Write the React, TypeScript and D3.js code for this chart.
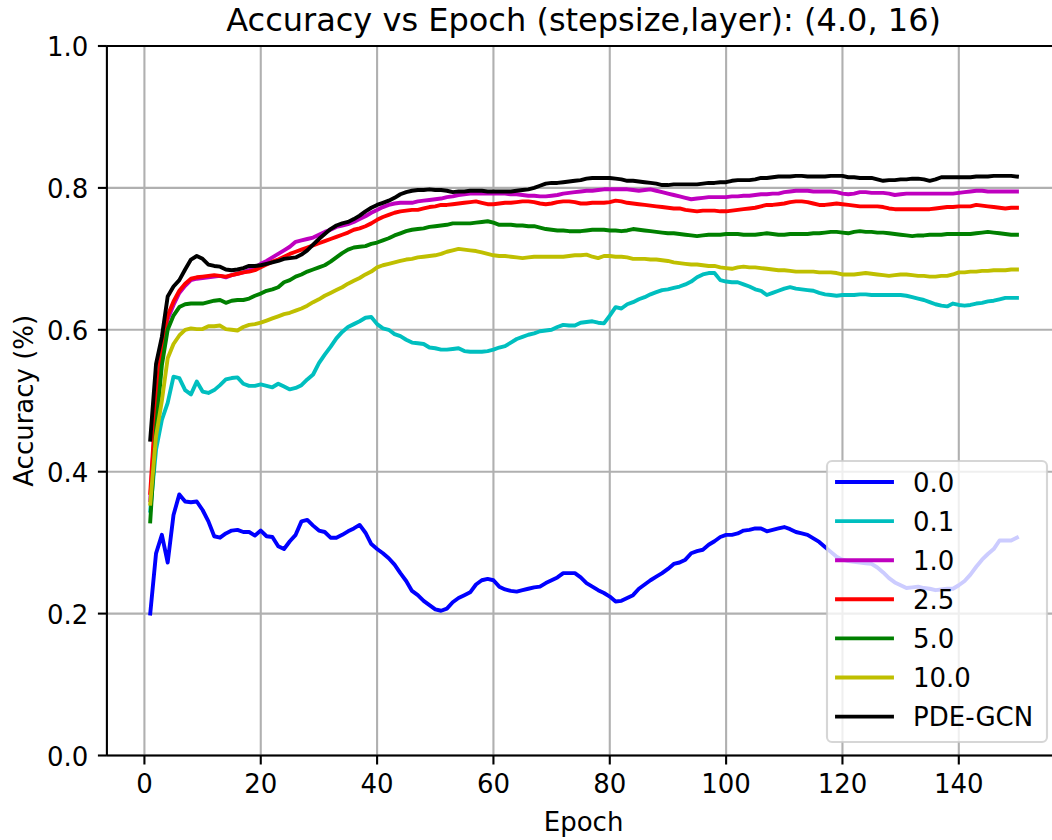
import React from "react";
import * as d3 from "d3";

const epochs: number[] = d3.range(1, 151);

const seriesNames = ["0.0", "0.1", "1.0", "2.5", "5.0", "10.0", "PDE-GCN"];
const seriesColors = ["#0000ff", "#00bfbf", "#bf00bf", "#ff0000", "#008000", "#bfbf00", "#000000"];

const acc00 = [
  0.200, 0.285, 0.311, 0.272, 0.339, 0.368, 0.358, 0.357, 0.358, 0.346,
  0.330, 0.309, 0.307, 0.313, 0.317, 0.318, 0.315, 0.315, 0.310, 0.317,
  0.309, 0.308, 0.295, 0.291, 0.302, 0.311, 0.330, 0.332, 0.324, 0.317,
  0.315, 0.307, 0.307, 0.311, 0.316, 0.320, 0.325, 0.314, 0.298, 0.291,
  0.285, 0.278, 0.269, 0.257, 0.246, 0.232, 0.226, 0.218, 0.212, 0.206,
  0.204, 0.207, 0.216, 0.222, 0.226, 0.230, 0.241, 0.247, 0.249, 0.247,
  0.238, 0.234, 0.232, 0.231, 0.233, 0.235, 0.237, 0.238, 0.243, 0.247,
  0.251, 0.257, 0.257, 0.257, 0.251, 0.243, 0.238, 0.233, 0.229, 0.224,
  0.217, 0.218, 0.222, 0.226, 0.235, 0.241, 0.247, 0.252, 0.257, 0.263,
  0.270, 0.272, 0.276, 0.285, 0.288, 0.290, 0.297, 0.302, 0.308, 0.311,
  0.311, 0.313, 0.317, 0.318, 0.320, 0.320, 0.316, 0.318, 0.320, 0.322,
  0.319, 0.315, 0.313, 0.311, 0.306, 0.301, 0.294, 0.287, 0.280, 0.276,
  0.274, 0.273, 0.272, 0.271, 0.270, 0.265, 0.258, 0.250, 0.244, 0.240,
  0.236, 0.237, 0.238, 0.236, 0.235, 0.233, 0.234, 0.235, 0.235, 0.240,
  0.246, 0.255, 0.266, 0.276, 0.284, 0.291, 0.303, 0.303, 0.303, 0.307,
];

const acc01 = [
  0.345, 0.431, 0.473, 0.497, 0.534, 0.532, 0.515, 0.509, 0.527, 0.513,
  0.511, 0.515, 0.522, 0.530, 0.532, 0.533, 0.524, 0.521, 0.521, 0.523,
  0.521, 0.519, 0.524, 0.520, 0.516, 0.518, 0.522, 0.530, 0.537, 0.553,
  0.565, 0.576, 0.588, 0.597, 0.604, 0.608, 0.612, 0.617, 0.618, 0.608,
  0.602, 0.600, 0.594, 0.591, 0.586, 0.582, 0.581, 0.580, 0.575, 0.574,
  0.572, 0.572, 0.573, 0.574, 0.570, 0.569, 0.569, 0.569, 0.570, 0.572,
  0.575, 0.577, 0.582, 0.587, 0.590, 0.593, 0.595, 0.598, 0.599, 0.600,
  0.604, 0.607, 0.606, 0.606, 0.610, 0.611, 0.612, 0.610, 0.609, 0.620,
  0.632, 0.630, 0.636, 0.639, 0.643, 0.646, 0.650, 0.653, 0.656, 0.657,
  0.659, 0.661, 0.664, 0.668, 0.674, 0.678, 0.680, 0.680, 0.670, 0.668,
  0.667, 0.667, 0.664, 0.661, 0.657, 0.655, 0.649, 0.652, 0.655, 0.658,
  0.660, 0.658, 0.657, 0.656, 0.655, 0.652, 0.650, 0.649, 0.648, 0.649,
  0.649, 0.649, 0.650, 0.650, 0.649, 0.649, 0.649, 0.649, 0.649, 0.649,
  0.648, 0.646, 0.644, 0.642, 0.639, 0.636, 0.634, 0.633, 0.637, 0.635,
  0.634, 0.635, 0.637, 0.638, 0.640, 0.641, 0.643, 0.645, 0.645, 0.645,
];

const acc10 = [
  0.360, 0.490, 0.570, 0.615, 0.635, 0.652, 0.662, 0.670, 0.672, 0.673,
  0.674, 0.675, 0.676, 0.674, 0.677, 0.679, 0.681, 0.684, 0.688, 0.693,
  0.697, 0.702, 0.707, 0.712, 0.717, 0.724, 0.726, 0.728, 0.730, 0.734,
  0.738, 0.741, 0.745, 0.747, 0.749, 0.752, 0.756, 0.760, 0.765, 0.769,
  0.773, 0.776, 0.778, 0.779, 0.779, 0.779, 0.781, 0.782, 0.783, 0.784,
  0.785, 0.787, 0.788, 0.790, 0.791, 0.792, 0.792, 0.792, 0.792, 0.792,
  0.792, 0.792, 0.791, 0.791, 0.790, 0.789, 0.789, 0.788, 0.788, 0.789,
  0.790, 0.792, 0.793, 0.794, 0.795, 0.796, 0.796, 0.797, 0.798, 0.798,
  0.798, 0.798, 0.798, 0.797, 0.796, 0.797, 0.798, 0.796, 0.794, 0.792,
  0.790, 0.788, 0.786, 0.784, 0.785, 0.786, 0.787, 0.787, 0.787, 0.787,
  0.788, 0.788, 0.789, 0.789, 0.790, 0.791, 0.791, 0.792, 0.792, 0.794,
  0.795, 0.796, 0.796, 0.796, 0.795, 0.795, 0.795, 0.795, 0.794, 0.792,
  0.791, 0.792, 0.794, 0.794, 0.793, 0.793, 0.793, 0.792, 0.790, 0.791,
  0.792, 0.792, 0.792, 0.792, 0.792, 0.792, 0.792, 0.792, 0.792, 0.793,
  0.794, 0.795, 0.796, 0.796, 0.795, 0.795, 0.795, 0.795, 0.795, 0.795,
];

const acc25 = [
  0.370, 0.500, 0.580, 0.620, 0.640, 0.655, 0.665, 0.672, 0.674, 0.675,
  0.676, 0.677, 0.676, 0.675, 0.677, 0.679, 0.681, 0.682, 0.684, 0.688,
  0.692, 0.696, 0.699, 0.703, 0.707, 0.710, 0.713, 0.716, 0.719, 0.722,
  0.725, 0.728, 0.731, 0.734, 0.737, 0.741, 0.743, 0.746, 0.750, 0.755,
  0.759, 0.762, 0.765, 0.767, 0.768, 0.769, 0.769, 0.771, 0.773, 0.774,
  0.776, 0.776, 0.777, 0.778, 0.779, 0.780, 0.781, 0.779, 0.777, 0.777,
  0.778, 0.779, 0.779, 0.780, 0.781, 0.781, 0.780, 0.778, 0.777, 0.778,
  0.780, 0.781, 0.781, 0.780, 0.778, 0.778, 0.779, 0.779, 0.779, 0.780,
  0.782, 0.781, 0.779, 0.778, 0.777, 0.776, 0.775, 0.774, 0.773, 0.772,
  0.771, 0.771, 0.769, 0.768, 0.767, 0.768, 0.768, 0.768, 0.767, 0.767,
  0.768, 0.769, 0.770, 0.771, 0.772, 0.774, 0.776, 0.776, 0.777, 0.778,
  0.780, 0.781, 0.781, 0.780, 0.778, 0.776, 0.776, 0.777, 0.778, 0.777,
  0.776, 0.775, 0.774, 0.774, 0.774, 0.774, 0.773, 0.771, 0.770, 0.770,
  0.770, 0.770, 0.770, 0.770, 0.770, 0.771, 0.772, 0.773, 0.773, 0.774,
  0.774, 0.774, 0.776, 0.775, 0.774, 0.773, 0.772, 0.771, 0.772, 0.772,
];

const acc50 = [
  0.330, 0.460, 0.550, 0.600, 0.620, 0.632, 0.636, 0.637, 0.637, 0.637,
  0.639, 0.641, 0.642, 0.638, 0.641, 0.642, 0.642, 0.644, 0.648, 0.651,
  0.655, 0.657, 0.660, 0.667, 0.670, 0.675, 0.678, 0.682, 0.685, 0.688,
  0.691, 0.696, 0.702, 0.708, 0.713, 0.716, 0.717, 0.718, 0.721, 0.723,
  0.726, 0.729, 0.733, 0.736, 0.739, 0.741, 0.742, 0.743, 0.745, 0.746,
  0.747, 0.748, 0.750, 0.750, 0.750, 0.750, 0.751, 0.752, 0.753, 0.751,
  0.748, 0.748, 0.748, 0.747, 0.747, 0.746, 0.746, 0.744, 0.742, 0.741,
  0.740, 0.740, 0.739, 0.739, 0.739, 0.740, 0.741, 0.741, 0.741, 0.740,
  0.740, 0.739, 0.740, 0.742, 0.741, 0.740, 0.739, 0.738, 0.737, 0.736,
  0.736, 0.735, 0.734, 0.733, 0.732, 0.733, 0.734, 0.734, 0.734, 0.735,
  0.735, 0.735, 0.734, 0.734, 0.734, 0.735, 0.736, 0.735, 0.734, 0.734,
  0.735, 0.735, 0.735, 0.735, 0.736, 0.736, 0.737, 0.738, 0.738, 0.737,
  0.736, 0.738, 0.739, 0.738, 0.738, 0.737, 0.737, 0.736, 0.735, 0.734,
  0.733, 0.732, 0.733, 0.733, 0.734, 0.734, 0.734, 0.735, 0.735, 0.735,
  0.735, 0.735, 0.736, 0.737, 0.738, 0.737, 0.736, 0.735, 0.734, 0.734,
];

const acc100 = [
  0.355, 0.450, 0.500, 0.560, 0.580, 0.592, 0.600, 0.602, 0.601, 0.601,
  0.605, 0.605, 0.606, 0.601, 0.600, 0.599, 0.604, 0.607, 0.608, 0.610,
  0.613, 0.616, 0.619, 0.622, 0.624, 0.627, 0.630, 0.634, 0.639, 0.643,
  0.648, 0.652, 0.656, 0.660, 0.665, 0.669, 0.673, 0.678, 0.682, 0.688,
  0.691, 0.693, 0.695, 0.697, 0.699, 0.700, 0.702, 0.703, 0.704, 0.705,
  0.707, 0.710, 0.712, 0.714, 0.713, 0.712, 0.711, 0.709, 0.707, 0.705,
  0.704, 0.704, 0.703, 0.702, 0.701, 0.702, 0.703, 0.703, 0.703, 0.703,
  0.703, 0.703, 0.704, 0.705, 0.705, 0.706, 0.703, 0.701, 0.704, 0.704,
  0.703, 0.703, 0.702, 0.700, 0.700, 0.700, 0.699, 0.699, 0.698, 0.697,
  0.695, 0.694, 0.693, 0.692, 0.692, 0.691, 0.690, 0.690, 0.688, 0.687,
  0.686, 0.688, 0.689, 0.688, 0.688, 0.687, 0.686, 0.685, 0.684, 0.684,
  0.683, 0.682, 0.682, 0.682, 0.682, 0.681, 0.681, 0.681, 0.680, 0.678,
  0.678, 0.678, 0.679, 0.680, 0.679, 0.678, 0.677, 0.676, 0.677, 0.678,
  0.678, 0.677, 0.676, 0.676, 0.675, 0.675, 0.676, 0.676, 0.678, 0.681,
  0.681, 0.682, 0.682, 0.683, 0.683, 0.684, 0.684, 0.684, 0.685, 0.685,
];

const accPDE = [
  0.445, 0.552, 0.590, 0.647, 0.661, 0.670, 0.685, 0.699, 0.704, 0.700,
  0.692, 0.690, 0.689, 0.685, 0.684, 0.685, 0.687, 0.690, 0.690, 0.691,
  0.693, 0.695, 0.697, 0.700, 0.701, 0.702, 0.706, 0.712, 0.720, 0.728,
  0.735, 0.742, 0.747, 0.750, 0.752, 0.756, 0.761, 0.767, 0.772, 0.776,
  0.779, 0.782, 0.786, 0.791, 0.794, 0.796, 0.797, 0.797, 0.798, 0.797,
  0.797, 0.796, 0.794, 0.795, 0.795, 0.796, 0.796, 0.796, 0.795, 0.795,
  0.795, 0.795, 0.795, 0.796, 0.797, 0.798, 0.800, 0.803, 0.806, 0.807,
  0.807, 0.808, 0.809, 0.810, 0.811, 0.813, 0.814, 0.814, 0.814, 0.814,
  0.813, 0.812, 0.810, 0.810, 0.809, 0.808, 0.807, 0.806, 0.804, 0.804,
  0.805, 0.805, 0.805, 0.805, 0.805, 0.806, 0.807, 0.807, 0.808, 0.808,
  0.810, 0.811, 0.811, 0.811, 0.812, 0.814, 0.814, 0.815, 0.816, 0.816,
  0.816, 0.817, 0.817, 0.816, 0.816, 0.816, 0.816, 0.817, 0.817, 0.817,
  0.815, 0.815, 0.814, 0.814, 0.814, 0.812, 0.810, 0.811, 0.811, 0.812,
  0.812, 0.813, 0.813, 0.812, 0.810, 0.812, 0.815, 0.815, 0.815, 0.815,
  0.815, 0.815, 0.816, 0.816, 0.816, 0.817, 0.817, 0.817, 0.817, 0.816,
];

const seriesValues = [acc00, acc01, acc10, acc25, acc50, acc100, accPDE];

const xTicks = [0, 20, 40, 60, 80, 100, 120, 140];
const yTicks = [0.0, 0.2, 0.4, 0.6, 0.8, 1.0];

const titleText = "Accuracy vs Epoch (stepsize,layer): (4.0, 16)";
const xLabel = "Epoch";
const yLabel = "Accuracy (%)";

const W = 1052;
const H = 840;
const FONT = "'DejaVu Sans', sans-serif";

export default function App() {
  const x = d3.scaleLinear().domain([-6.45, 157.45]).range([106.9, 1060.3]);
  const y = d3.scaleLinear().domain([0, 1]).range([755.5, 46]);
  const left = x.range()[0];
  const right = x.range()[1];
  const top = y.range()[1];
  const bottom = y.range()[0];

  const line = d3
    .line<number>()
    .x((_, i) => x(epochs[i]))
    .y((d) => y(d));

  const legendX = 827;
  const legendY = 461;
  const legendW = 220;
  const legendH = 281;
  const legendRowStart = 482;
  const legendRowStep = 39.1;

  return (
    <svg
      width={W}
      height={H}
      style={{ position: "absolute", left: 0, top: 0, background: "#fff" }}
      fontFamily={FONT}
    >
      <defs>
        <clipPath id="plotClip">
          <rect x={left} y={top} width={right - left} height={bottom - top} />
        </clipPath>
      </defs>
      <rect x={0} y={0} width={W} height={H} fill="#fff" />

      {/* grid */}
      <g stroke="#b0b0b0" strokeWidth={2.1}>
        {xTicks.map((t) => (
          <line key={"gx" + t} x1={x(t)} x2={x(t)} y1={top} y2={bottom} />
        ))}
        {yTicks.map((t) => (
          <line key={"gy" + t} x1={left} x2={right} y1={y(t)} y2={y(t)} />
        ))}
      </g>

      {/* series */}
      <g clipPath="url(#plotClip)" fill="none" strokeWidth={3.9} strokeLinejoin="round" strokeLinecap="square">
        {seriesValues.map((vals, i) => (
          <path key={seriesNames[i]} d={line(vals) || ""} stroke={seriesColors[i]} />
        ))}
      </g>

      {/* spines */}
      <g stroke="#000" strokeWidth={2.1} fill="none">
        <line x1={left} x2={left} y1={top} y2={bottom} />
        <line x1={left} x2={right} y1={bottom} y2={bottom} />
        <line x1={left} x2={right} y1={top} y2={top} />
        <line x1={right} x2={right} y1={top} y2={bottom} />
      </g>

      {/* x ticks */}
      <g>
        {xTicks.map((t) => (
          <g key={"xt" + t}>
            <line x1={x(t)} x2={x(t)} y1={bottom} y2={bottom + 9} stroke="#000" strokeWidth={2.1} />
            <text x={x(t)} y={bottom + 37} textAnchor="middle" fontSize={26} fill="#000">
              {t}
            </text>
          </g>
        ))}
      </g>

      {/* y ticks */}
      <g>
        {yTicks.map((t) => (
          <g key={"yt" + t}>
            <line x1={left - 9} x2={left} y1={y(t)} y2={y(t)} stroke="#000" strokeWidth={2.1} />
            <text x={left - 18.5} y={y(t) + 10} textAnchor="end" fontSize={26} fill="#000">
              {t.toFixed(1)}
            </text>
          </g>
        ))}
      </g>

      {/* labels */}
      <text x={(left + right) / 2} y={31} textAnchor="middle" fontSize={32} fill="#000">
        {titleText}
      </text>
      <text x={(left + right) / 2} y={831} textAnchor="middle" fontSize={26} fill="#000">
        {xLabel}
      </text>
      <text
        transform={`translate(33, ${(top + bottom) / 2}) rotate(-90)`}
        textAnchor="middle"
        fontSize={26}
        fill="#000"
      >
        {yLabel}
      </text>

      {/* legend */}
      <g>
        <rect
          x={legendX}
          y={legendY}
          width={legendW}
          height={legendH}
          rx={5}
          ry={5}
          fill="#fff"
          fillOpacity={0.8}
          stroke="#cccccc"
          strokeOpacity={0.8}
          strokeWidth={2.1}
        />
        {seriesNames.map((name, i) => {
          const ry = legendRowStart + i * legendRowStep;
          return (
            <g key={"lg" + name}>
              <line x1={837} x2={892} y1={ry} y2={ry} stroke={seriesColors[i]} strokeWidth={3.9} strokeLinecap="square" />
              <text x={913} y={ry + 9.5} fontSize={26} fill="#000">
                {name}
              </text>
            </g>
          );
        })}
      </g>
    </svg>
  );
}
